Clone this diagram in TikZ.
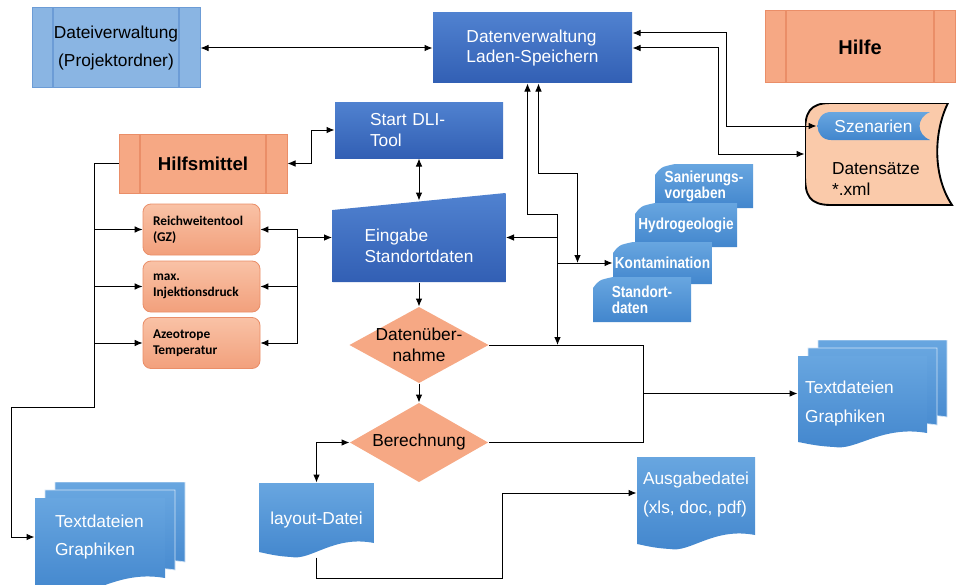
\documentclass[tikz,border=0pt]{standalone}
\usepackage{fontspec}
\setmainfont{Liberation Sans}
\newfontfamily\calibfont{Carlito}
\newfontfamily\narrowfont[FakeStretch=0.85]{Liberation Sans}
\usepackage{tikz}
\usetikzlibrary{arrows.meta,calc}

\definecolor{dblueA}{RGB}{80,130,208}
\definecolor{dblueB}{RGB}{50,95,180}
\definecolor{lblueA}{RGB}{104,166,224}
\definecolor{lblueB}{RGB}{66,134,205}
\definecolor{paleblue}{RGB}{138,181,227}
\definecolor{paleblueline}{RGB}{108,156,214}
\definecolor{salmon}{RGB}{246,168,132}
\definecolor{salmonline}{RGB}{234,142,104}
\definecolor{salmonA}{RGB}{249,194,166}
\definecolor{salmonB}{RGB}{242,160,124}
\definecolor{peach}{RGB}{250,202,170}

% corners of the node inside a path picture
\newcommand\ppcorners{\coordinate (pNW) at (path picture bounding box.north west);
  \coordinate (pSE) at (path picture bounding box.south east);}
% page with wavy bottom, corners NW and SE
\newcommand\docpath[2]{(#1) -- (#1 -| #2) -- ($(#2)+(0,-14)$)
  .. controls ($(#2)!0.35!(#1 |- #2)+(0,-22)$) and ($(#2)!0.55!(#1 |- #2)+(0,4)$) .. ($(#2)!0.72!(#1 |- #2)$)
  .. controls ($(#2)!0.87!(#1 |- #2)+(0,-1)$) and ($(#2)!0.95!(#1 |- #2)+(0,-4)$) .. ($(#1 |- #2)+(0,-5)$) -- cycle}

\tikzset{
  box/.style={rectangle, inner sep=0pt, font=\fontsize{13}{15.6}\selectfont},
  subproc/.style={box, draw=#1line, fill=#1, line width=0.75pt,
    path picture={\ppcorners
      \draw[#1line, line width=1.2pt] ($(pNW)+(21,0)$) -- ($(pNW |- pSE)+(21,0)$)
        ($(pNW -| pSE)+(-21,0)$) -- ($(pSE)+(-21,0)$);}},
  darkbox/.style={box, top color=dblueA, bottom color=dblueB, text=white, align=left},
  manual/.style={box, text=white, align=left, path picture={\ppcorners
      \shade[top color=dblueA, bottom color=dblueB]
        ($(pNW)+(0,17)$) -- (pNW -| pSE) -- (pSE) -- (pNW |- pSE) -- cycle;}},
  helper/.style={box, rounded corners=6pt, draw=salmonline, line width=0.6pt,
    top color=salmonA, bottom color=salmonB, align=left, inner xsep=7.5pt,
    text width=72.75pt, minimum height=38.25pt,
    font=\calibfont\bfseries\fontsize{10}{12}\selectfont},
  decision/.style={box, align=center, path picture={\ppcorners
      \fill[salmon] ($(pNW)!0.5!(pNW -| pSE)$) -- ($(pNW -| pSE)!0.5!(pSE)$)
        -- ($(pSE)!0.5!(pNW |- pSE)$) -- ($(pNW |- pSE)!0.5!(pNW)$) -- cycle;}},
  card/.style={box, text=white, align=left,
    font=\narrowfont\bfseries\fontsize{12}{12}\selectfont,
    path picture={\ppcorners
      \shade[top color=lblueA, bottom color=lblueB]
        ($(pNW)+(20,0)$) -- (pNW -| pSE) -- (pSE) -- (pNW |- pSE) -- ($(pNW)+(0,11)$)
        .. controls ($(pNW)+(6,3)$) .. ($(pNW)+(20,0)$) -- cycle;}},
  doc/.style={box, text=white, align=left, path picture={\ppcorners
      \shade[top color=lblueA, bottom color=lblueB] \docpath{pNW}{pSE};}},
  multidoc/.style={box, text=white, align=left, path picture={\ppcorners
      \coordinate (qNW) at ($(pNW)+(20,0)$); \coordinate (qSE) at ($(pSE)+(0,-16)$);
      \shadedraw[top color=lblueA, bottom color=lblueB, draw=white!70!lblueA, line width=0.5pt] \docpath{qNW}{qSE};
      \coordinate (qNW) at ($(pNW)+(10,8)$); \coordinate (qSE) at ($(pSE)+(-10,-8)$);
      \shadedraw[top color=lblueA, bottom color=lblueB, draw=white!70!lblueA, line width=0.5pt] \docpath{qNW}{qSE};
      \coordinate (qNW) at ($(pNW)+(0,16)$); \coordinate (qSE) at ($(pSE)+(-20,0)$);
      \shade[top color=lblueA, bottom color=lblueB] \docpath{qNW}{qSE};}},
  storage/.style={box, align=left, path picture={\ppcorners
      \filldraw[fill=peach, draw=black, line width=1.4pt]
        ($(pNW)+(26,0)$) -- ($(pNW -| pSE)+(-12,0)$)
        .. controls ($(pNW -| pSE)+(-26,28)$) and ($(pSE)+(-28,-30)$) .. ($(pSE)+(-8,0)$)
        -- ($(pNW |- pSE)+(26,0)$)
        .. controls ($(pNW |- pSE)+(4,0)$) and ($(pNW |- pSE)+(0,-10)$) .. ($(pNW |- pSE)+(0,-30)$)
        -- ($(pNW)+(0,30)$)
        .. controls ($(pNW)+(0,10)$) and ($(pNW)+(4,0)$) .. ($(pNW)+(26,0)$) -- cycle;}},
  pill/.style={box, text=white, path picture={\ppcorners
      \shade[top color=lblueA, bottom color=lblueB]
        ($(pNW)+(14,0)$) -- (pNW -| pSE)
        .. controls ($(pNW -| pSE)+(-14,6)$) and ($(pSE)+(-14,-6)$) .. (pSE)
        -- ($(pNW |- pSE)+(14,0)$)
        .. controls ($(pNW |- pSE)+(-4,0)$) and ($(pNW)+(-4,0)$) .. ($(pNW)+(14,0)$) -- cycle;}}
}

\begin{document}
\begin{tikzpicture}[x=0.75pt, y=-0.75pt, >={Latex[length=6pt,width=5pt]}, line width=0.75pt]
\path[fill=white] (0,0) rectangle (956,585);
\useasboundingbox (0,0) rectangle (956,585);

\node[subproc=paleblue, minimum width=126pt, minimum height=60pt, align=center] (datei) at (116,48) {Dateiverwaltung\\[5pt](Projektordner)};
\node[darkbox, minimum width=149.25pt, minimum height=52.5pt] (verw) at (532.5,48) {Datenverwaltung\\Laden-Speichern};
\node[subproc=salmon, minimum width=142.5pt, minimum height=54pt, font=\bfseries\fontsize{15}{18}\selectfont] (hilfe) at (860,47) {Hilfe};
\node[storage, minimum width=116.25pt, minimum height=76.5pt, text width=75.75pt, text height=47pt] (saetze) at (882.5,154) {Datensätze\\{}*.xml};
\node[pill, minimum width=84.75pt, minimum height=21pt] (szen) at (873.5,126) {Szenarien};
\node[darkbox, minimum width=126pt, minimum height=42pt, text width=73.5pt] (start) at (419,130) {Start DLI-\\Tool};
\node[subproc=salmon, minimum width=126pt, minimum height=44.25pt, font=\bfseries\fontsize{14}{17}\selectfont] (hilfsm) at (203,163.5) {Hilfsmittel};
\node[manual, minimum width=129.75pt, minimum height=66.75pt, text height=38pt] (eingabe) at (419,237.5) {Eingabe\\Standortdaten};
\node[helper] (reich) at (201.5,229.5) {Reichweitentool\\(GZ)};
\node[helper] (maxi) at (201.5,286.5) {max.\\Injektionsdruck};
\node[helper] (azeo) at (201.5,343) {Azeotrope\\Temperatur};
\node[decision, minimum width=104.25pt, minimum height=57pt] (uebern) at (419,345) {Datenüber-\\nahme};
\node[decision, minimum width=103.5pt, minimum height=59.25pt] (berech) at (419,442.5) {Berechnung};
\node[card, minimum width=73.5pt, minimum height=33pt] (sanier) at (704,186) {Sanierungs-\\vorgaben};
\node[card, minimum width=76.5pt, minimum height=33pt] (hydro) at (686,225) {Hydrogeologie};
\node[card, minimum width=74.25pt, minimum height=31.5pt] (konta) at (662.5,263) {Kontamination};
\node[card, minimum width=73.5pt, minimum height=33.75pt] (standort) at (642,299.5) {Standort-\\daten};
\node[multidoc, minimum width=111.75pt, minimum height=80.25pt, text width=101pt, text height=24.4pt] (textR) at (872.5,393.5) {Textdateien\\[6pt]Graphiken};
\node[multidoc, minimum width=112.5pt, minimum height=82.5pt, text width=82.5pt] (textL) at (110,537) {Textdateien\\[6pt]Graphiken};
\node[doc, minimum width=86.25pt, minimum height=55.5pt, align=center] (layout) at (316.5,520) {layout-Datei};
\node[doc, minimum width=88.5pt, minimum height=69pt, text height=31pt, text depth=15pt] (ausgabe) at (696,503) {Ausgabedatei\\[6pt](xls, doc, pdf)};

\draw[<->] (datei.east) -- (verw.west);
\draw[<->] ($(verw.east)+(0,-15)$) -- ++(94,0) |- (szen.west);
\draw[<->] (verw.east) -- ++(86,0) |- (saetze.west);
\draw[<->] ($(verw.south)+(-5,0)$) |- ++(30,131) coordinate (jn) -- (jn |- uebern.east);
\draw[->] (jn |- eingabe.east) -- (eingabe.east);
\draw[->] (jn |- konta.west) -- (konta.west);
\draw[<->] ($(verw.south)+(6,0)$) |- ++(39,90) coordinate (jk) -- (jk |- konta.west);
\draw[<->] (hilfsm.east) -- ++(24,0) |- (start.west);
\draw[<->] (start.south) -- ($(eingabe.north)+(0,8)$);
\draw[->] (eingabe.south) -- (uebern.north);
\draw[->] (uebern.south) -- (berech.north);
\draw (uebern.east) -- ++(154,0) coordinate (rl) |- (berech.east);
\draw[->] (rl |- textR.west) -- (textR.west);
\draw[<->] (reich.east) -- ++(37,0) coordinate (hb) |- (azeo.east);
\draw[->] (hb |- maxi.east) -- (maxi.east);
\draw[->] (hb |- eingabe.west) -- (eingabe.west);
\draw[->] (hilfsm.west) -- ++(-24,0) coordinate (lb) |- ++(-83,244) |- (textL.west);
\draw[->] (lb |- reich.west) -- (reich.west);
\draw[->] (lb |- maxi.west) -- (maxi.west);
\draw[->] (lb |- azeo.west) -- (azeo.west);
\draw[<->] (layout.north) |- (berech.west);
\draw[->] (layout.south) -- ++(0,21) -- ++(186,0) |- ($(ausgabe.west)+(0,-10)$);
\end{tikzpicture}
\end{document}
